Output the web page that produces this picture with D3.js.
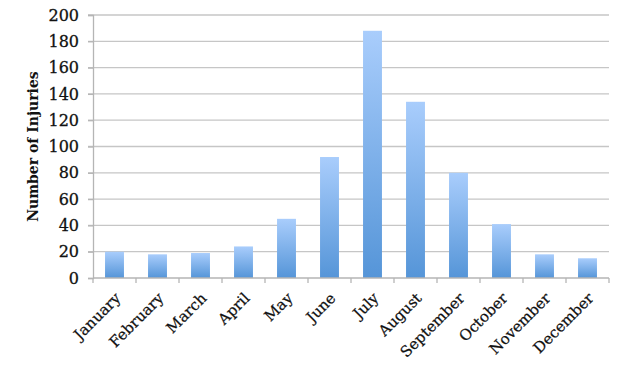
<!DOCTYPE html>
<html>
<head>
<meta charset="utf-8">
<script src="https://cdn.jsdelivr.net/npm/d3@7"></script>
<style>
  body { margin: 0; background: #fff; }
</style>
</head>
<body>
<div id="chart"></div>
<script>
const months = ["January", "February", "March", "April", "May", "June", "July",
  "August", "September", "October", "November", "December"]
const injuries = [20, 18, 19, 24, 45, 92, 188, 134, 80, 41, 18, 15]
const yTicks = [0, 20, 40, 60, 80, 100, 120, 140, 160, 180, 200]

const width = 621, height = 367
const margin = {top: 15, right: 12, bottom: 89, left: 93}
const font = "'DejaVu Serif', serif"

const svg = d3.select('#chart')
    .append('svg')
    .attr('width', width)
    .attr('height', height)

const x = d3.scaleBand(months, [margin.left, width - margin.right])
    .paddingInner(0.56)
    .paddingOuter(0.28)
const y = d3.scaleLinear([0, 200], [height - margin.bottom, margin.top])

const grad = svg.append("defs").append("linearGradient")
    .attr("id", "barGrad")
    .attr("x1", 0).attr("y1", 0).attr("x2", 0).attr("y2", 1)
grad.append("stop").attr("offset", "0%").attr("stop-color", "#a9cdfc")
grad.append("stop").attr("offset", "100%").attr("stop-color", "#5595d8")

// gridlines
svg.append("g")
    .selectAll("line")
    .data(yTicks.filter(d => d > 0))
    .join("line")
    .attr("x1", margin.left - 5)
    .attr("x2", width - margin.right)
    .attr("y1", d => y(d))
    .attr("y2", d => y(d))
    .attr("stroke", "#c6c6c6")
    .attr("stroke-width", 1.3)

// bars
svg.append("g")
    .selectAll("rect")
    .data(injuries)
    .join("rect")
    .attr("x", (d, i) => x(months[i]))
    .attr("y", d => y(d))
    .attr("width", x.bandwidth())
    .attr("height", d => y(0) - y(d))
    .attr("fill", "url(#barGrad)")

// y axis
const yAxis = svg.append("g")
    .attr("transform", `translate(${margin.left},0)`)
    .call(d3.axisLeft(y).tickValues(yTicks).tickSize(5).tickPadding(9))
yAxis.select(".domain").attr("stroke", "#b5b5b5").attr("stroke-width", 1.3)
yAxis.selectAll(".tick line").attr("stroke", "#b5b5b5").attr("stroke-width", 1.3)
yAxis.selectAll("text")
    .attr("font-family", font)
    .attr("font-size", 16)
    .attr("fill", "#111")
    .attr("stroke", "#111")
    .attr("stroke-width", 0.3)

// x axis
const xStep = x.step()
const xAxis = svg.append("g")
    .attr("transform", `translate(0,${y(0)})`)
    .call(d3.axisBottom(x).tickSize(0).tickSizeOuter(0))
xAxis.select(".domain").attr("stroke", "#b5b5b5").attr("stroke-width", 1.3)
    .attr("d", `M${margin.left},0H${width - margin.right}`)
xAxis.selectAll(".tick text")
    .attr("font-family", font)
    .attr("font-size", 15)
    .attr("fill", "#111")
    .attr("stroke", "#111")
    .attr("stroke-width", 0.25)
    .attr("text-anchor", "end")
    .attr("dy", "0")
    .attr("transform", "translate(5,19) rotate(-45)")

// tick marks on band boundaries
svg.append("g")
    .selectAll("line")
    .data(d3.range(months.length + 1))
    .join("line")
    .attr("x1", i => margin.left + i * xStep)
    .attr("x2", i => margin.left + i * xStep)
    .attr("y1", y(0))
    .attr("y2", y(0) + 5)
    .attr("stroke", "#b5b5b5")
    .attr("stroke-width", 1.3)

// y title
svg.append("text")
    .attr("transform", `translate(38,${(y(0) + y(200)) / 2}) rotate(-90)`)
    .attr("text-anchor", "middle")
    .attr("font-family", font)
    .attr("font-weight", "bold")
    .attr("font-size", 14)
    .attr("fill", "#111")
    .text("Number of Injuries")
</script>
</body>
</html>
